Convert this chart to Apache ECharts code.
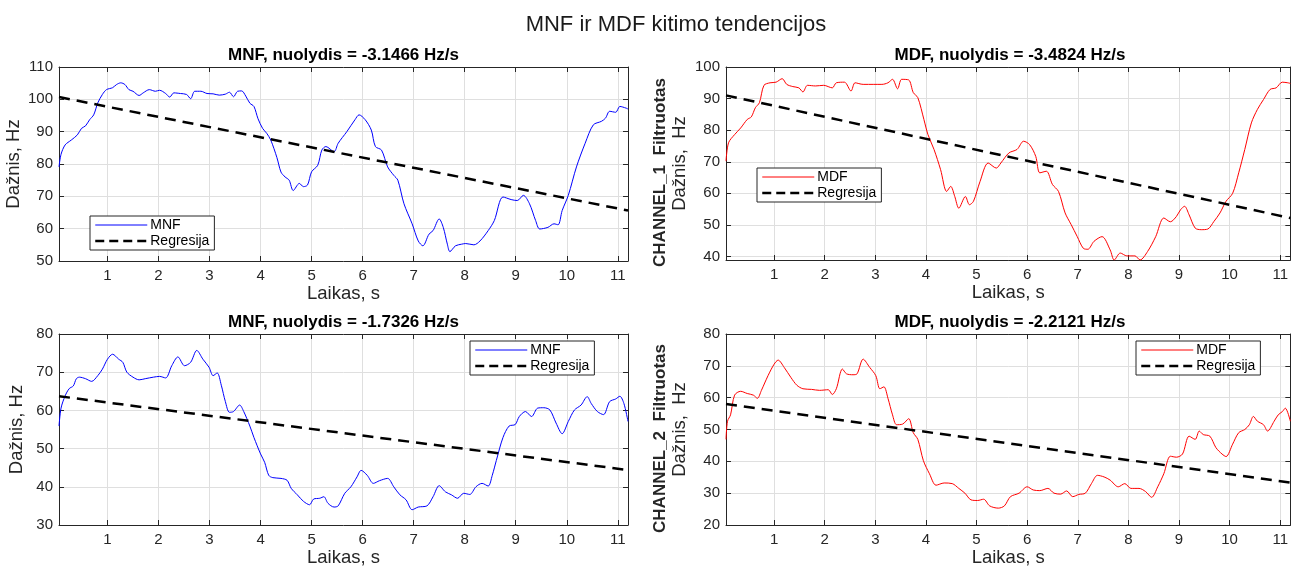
<!DOCTYPE html>
<html>
<head>
<meta charset="utf-8">
<script src="https://cdn.jsdelivr.net/npm/echarts@6/dist/echarts.min.js"></script>
<style>
  html, body { margin: 0; padding: 0; background: #ffffff; }
  #chart { width: 1291px; height: 568px; }
</style>
</head>
<body>
<div id="chart"></div>
<script>
// ---- data: time (s) / frequency (Hz) ----
const timeRange = [0.05, 11.2];
const timeTicks = [1, 2, 3, 4, 5, 6, 7, 8, 9, 10, 11];

const ch1Mnf = [
  [0.05,79.1],[0.09,83],[0.17,85.9],[0.29,87.4],[0.41,89],[0.49,91],[0.57,91.8],[0.65,93.7],[0.73,95.2],
  [0.81,98.9],[0.9,101.5],[0.98,103],[1.1,103.6],[1.18,104.6],[1.26,105.1],[1.34,104.6],[1.42,103],
  [1.5,102.5],[1.62,101.2],[1.7,102],[1.82,103],[1.94,102.5],[2.02,102.8],[2.14,101.8],[2.22,100.7],
  [2.3,102],[2.43,101.8],[2.55,101.5],[2.63,100.2],[2.71,102.5],[2.83,102.5],[2.95,101.8],[3.07,101.7],
  [3.19,101.3],[3.31,101.6],[3.39,102.2],[3.47,100.8],[3.55,102.5],[3.63,102.6],[3.71,101],[3.79,98.8],
  [3.87,97.8],[3.95,94],[4.04,91],[4.12,89.5],[4.2,87.4],[4.32,82],[4.4,77.5],[4.48,76],[4.56,75],
  [4.64,71.8],[4.76,74],[4.84,73],[4.92,73.5],[5.0,77.6],[5.12,79.6],[5.2,84.3],[5.28,85.4],[5.44,83.8],
  [5.52,86.4],[5.69,90],[5.85,93.7],[5.93,95.2],[6.05,93.7],[6.17,90.5],[6.25,85.4],[6.37,84.3],
  [6.49,79.1],[6.61,76.5],[6.69,75],[6.81,67.7],[6.97,61.5],[7.09,56.2],[7.18,54.7],[7.3,58.3],
  [7.38,59.4],[7.5,63],[7.58,60.4],[7.66,55.2],[7.71,52.9],[7.82,54.7],[7.94,55.2],[8.02,55.4],
  [8.18,55],[8.3,56.2],[8.46,59.4],[8.58,62.5],[8.75,69.8],[8.91,69],[9.03,68.7],[9.15,70.3],
  [9.27,67.7],[9.39,62.5],[9.47,59.9],[9.63,60.4],[9.75,61.5],[9.83,61.2],[9.91,65.6],[10.03,70.3],
  [10.19,79.1],[10.36,86.4],[10.52,92.1],[10.68,93.2],[10.76,94.2],[10.84,96.3],[10.96,96],
  [11.04,97.8],[11.16,97.3],[11.2,97]
];

const ch1Mdf = [
  [0.05,70.2],[0.1,76],[0.22,78.6],[0.34,80.7],[0.47,83.4],[0.55,84.2],[0.63,87.1],[0.71,88.7],
  [0.8,94.2],[0.92,95],[1.04,95.2],[1.16,96.3],[1.25,94.5],[1.37,93.8],[1.49,93.4],[1.57,92.1],
  [1.66,94.2],[1.82,94],[1.98,94.2],[2.15,93.4],[2.23,95],[2.39,95.2],[2.52,92.4],[2.6,95],
  [2.76,94.5],[2.97,94.5],[3.13,94.5],[3.25,95],[3.34,96.1],[3.44,93.1],[3.52,96.1],[3.66,95.9],
  [3.75,91.9],[3.84,90.3],[3.96,83.4],[4.04,78.6],[4.16,73.9],[4.29,67.5],[4.41,60.6],[4.49,62.2],
  [4.57,59],[4.65,55.3],[4.78,59],[4.86,56.4],[4.94,57.5],[5.07,63.8],[5.23,69.6],[5.39,68],
  [5.48,69.6],[5.64,72.8],[5.8,73.9],[5.93,76.5],[6.05,75.4],[6.17,71.7],[6.25,66.5],[6.38,67],
  [6.5,62.8],[6.62,60.6],[6.75,53.8],[6.87,50.1],[6.99,46.3],[7.11,42.6],[7.2,42.3],[7.32,44.8],
  [7.48,46.3],[7.64,42.1],[7.72,38.9],[7.84,41.1],[7.97,40.2],[8.13,40.2],[8.23,38.9],[8.38,41.6],
  [8.54,46.3],[8.7,52.2],[8.83,51],[8.95,52.7],[9.03,54.8],[9.11,55.9],[9.2,53.2],[9.32,49],
  [9.44,48.5],[9.57,48.7],[9.69,51.1],[9.81,53.8],[9.93,57.5],[10.06,60],[10.18,66.5],[10.3,73.9],
  [10.43,82.3],[10.55,86.6],[10.67,89.7],[10.8,92.9],[10.92,93.4],[11.04,95.2],[11.15,95],[11.2,94.8]
];

const ch2Mnf = [
  [0.05,55.9],[0.09,60.6],[0.17,63.8],[0.25,65.7],[0.33,66.4],[0.39,68.3],[0.45,68.7],[0.57,68.3],
  [0.69,67.6],[0.81,69.1],[0.9,70.8],[1.0,73.4],[1.1,74.7],[1.22,73.4],[1.3,72.6],[1.38,70],
  [1.5,68.7],[1.62,68],[1.74,68.3],[1.9,68.7],[2.02,68.9],[2.14,68.5],[2.26,71.7],[2.38,74],
  [2.51,71.7],[2.63,72.6],[2.75,75.7],[2.87,73.4],[2.99,71.3],[3.07,69.1],[3.15,69.8],[3.23,66.6],
  [3.31,62.3],[3.39,59.5],[3.47,59.7],[3.59,61.4],[3.67,59.7],[3.79,55.9],[3.87,52.9],[4.0,48.6],
  [4.08,46.4],[4.16,43],[4.24,42.4],[4.4,42.2],[4.52,41.7],[4.6,39.6],[4.72,37.9],[4.84,36.2],
  [4.96,35.3],[5.04,36.8],[5.16,37],[5.24,37.4],[5.32,35.7],[5.44,34.7],[5.52,35],[5.65,38.3],
  [5.77,40],[5.89,42.6],[5.97,44.3],[6.09,43],[6.21,40.9],[6.33,41.6],[6.49,42.2],[6.61,40],
  [6.73,37.9],[6.85,36.6],[6.97,34],[7.09,34.7],[7.26,35],[7.38,37.4],[7.5,40.3],[7.62,38.7],
  [7.74,37.9],[7.86,37],[7.98,38.3],[8.1,38],[8.22,40],[8.34,40.9],[8.46,40.2],[8.54,43],
  [8.62,46.9],[8.75,52.9],[8.87,55.9],[8.99,56.3],[9.07,58.4],[9.19,59.7],[9.31,58.4],[9.43,60.6],
  [9.55,60.7],[9.67,60.1],[9.79,56.7],[9.91,53.9],[10.03,57.1],[10.15,60.1],[10.28,61.4],
  [10.4,63.6],[10.48,61.8],[10.6,59.7],[10.72,58.9],[10.84,62.3],[10.96,63],[11.04,63.7],
  [11.12,61.8],[11.2,57.1]
];

const ch2Mdf = [
  [0.05,46.9],[0.08,52.6],[0.14,54.6],[0.22,60.8],[0.34,62],[0.47,61.3],[0.59,60.8],[0.67,59.8],
  [0.75,62.3],[0.88,66.9],[1.0,70.5],[1.08,71.8],[1.2,69.5],[1.33,66.4],[1.45,63.9],[1.57,62.8],
  [1.74,62.6],[1.9,62.3],[2.07,62.5],[2.15,61],[2.23,62.8],[2.35,69],[2.43,67.5],[2.56,67.2],
  [2.64,67.5],[2.76,72.1],[2.89,69.5],[3.01,66.9],[3.09,62.8],[3.17,63.4],[3.25,59.8],[3.34,54.6],
  [3.42,51.5],[3.54,51.7],[3.66,53.4],[3.75,49],[3.84,46.9],[3.95,40.2],[4.07,36.1],[4.2,32.5],
  [4.36,33.2],[4.52,33],[4.65,31.5],[4.77,30],[4.89,27.9],[5.02,27.7],[5.14,28.1],[5.26,26],
  [5.43,25.3],[5.55,26],[5.67,28.9],[5.84,30],[6.0,32],[6.12,31],[6.25,30.8],[6.41,31.5],
  [6.53,30],[6.66,29.7],[6.78,30.7],[6.9,28.9],[7.02,29.6],[7.15,30],[7.27,33],[7.39,35.6],
  [7.52,35.1],[7.64,34.1],[7.8,32],[7.93,33],[8.05,31.5],[8.21,31.5],[8.34,30.5],[8.46,28.7],
  [8.58,32],[8.7,36.1],[8.83,41.6],[8.95,41.3],[9.07,42.3],[9.2,47.9],[9.32,46.9],[9.4,49.5],
  [9.48,48.4],[9.61,47.9],[9.73,44.3],[9.85,42.3],[9.93,41.5],[10.06,45.4],[10.18,49],[10.3,50],
  [10.39,51.5],[10.47,54.1],[10.55,52.6],[10.67,51.5],[10.75,49.5],[10.88,52.6],[10.96,54.6],
  [11.04,55.6],[11.1,56.7],[11.2,52.6]
];

// linear regression of each curve: intercept (Hz) and slope (Hz/s)
const regIntercept = [100.86, 91.2, 63.8, 58.1];
const regSlope = [-3.1466, -3.4824, -1.7326, -2.2121];

// y axis extents and tick labels
const yExtent = [[50, 110], [38.9, 100], [30, 80], [20, 80]];
const yTicks = [
  [50, 60, 70, 80, 90, 100, 110],
  [40, 50, 60, 70, 80, 90, 100],
  [30, 40, 50, 60, 70, 80],
  [20, 30, 40, 50, 60, 70, 80]
];

const curveNames = ['MNF', 'MDF', 'MNF', 'MDF'];
const curves = [ch1Mnf, ch1Mdf, ch2Mnf, ch2Mdf];
const channelNames = ['', 'CHANNEL_1  Filtruotas', '', 'CHANNEL_2  Filtruotas'];

// ---- layout & styling ----
const FONT = "'Liberation Sans', Arial, Helvetica, sans-serif";
const AX = '#262626';
const GRIDC = '#dfdfdf';
const curveColors = { MNF: '#0000ff', MDF: '#ff0000' };

const panels = [
  { grid: { left: 59, top: 67, width: 569, height: 194 }, legend: { left: 90, top: 216 }, titleX: 343.5, titleY: 55 },
  { grid: { left: 726, top: 67, right: -3, height: 193 }, legend: { left: 757, top: 168 }, titleX: 1010, titleY: 55 },
  { grid: { left: 59, top: 334, width: 569, height: 197 }, legend: { left: 470, top: 341 }, titleX: 343.5, titleY: 322 },
  { grid: { left: 726, top: 334, right: -3, height: 197 }, legend: { left: 1136, top: 341 }, titleX: 1010, titleY: 322 }
];

const grids = [], xAxes = [], yAxes = [], series = [], legends = [];
const graphics = [{
  type: 'text', x: 676, y: 25,
  style: { text: 'MNF ir MDF kitimo tendencijos', font: `22px ${FONT}`, fill: '#1a1a1a', align: 'center', verticalAlign: 'middle' }
}];

const lineAxis = { show: true, lineStyle: { color: AX, width: 1 } };
const tickIn = { show: true, inside: true, length: 5, lineStyle: { color: AX, width: 1 } };
const noSymbol = { opacity: 0, borderWidth: 0 };

panels.forEach((p, i) => {
  grids.push(Object.assign({ containLabel: false }, p.grid));

  // bottom x axis (labelled) and top x axis (box with inward ticks)
  xAxes.push({
    type: 'value', gridIndex: i, position: 'bottom', min: timeRange[0], max: timeRange[1],
    axisLine: lineAxis, axisTick: Object.assign({ customValues: timeTicks }, tickIn),
    axisLabel: { customValues: timeTicks, color: AX, fontSize: 15, fontFamily: FONT, margin: 7 },
    splitLine: { show: true, lineStyle: { color: GRIDC, width: 1 } },
    name: 'Laikas, s', nameLocation: 'middle', nameGap: 23,
    nameTextStyle: { color: AX, fontSize: 18.5, fontFamily: FONT }
  });
  xAxes.push({
    type: 'value', gridIndex: i, position: 'top', min: timeRange[0], max: timeRange[1],
    axisLine: lineAxis, axisTick: Object.assign({ customValues: timeTicks }, tickIn),
    axisLabel: { show: false }, splitLine: { show: false }
  });

  const yName = channelNames[i]
    ? `{b|${channelNames[i]}}\n{n|Dažnis,  Hz}`
    : 'Dažnis, Hz';
  yAxes.push({
    type: 'value', gridIndex: i, position: 'left', min: yExtent[i][0], max: yExtent[i][1],
    axisLine: lineAxis, axisTick: Object.assign({ customValues: yTicks[i] }, tickIn),
    axisLabel: { customValues: yTicks[i], color: AX, fontSize: 15, fontFamily: FONT, margin: 6 },
    splitLine: { show: true, lineStyle: { color: GRIDC, width: 1 } },
    name: yName, nameLocation: 'middle', nameGap: channelNames[i] ? 36 : 32,
    nameTextStyle: {
      color: AX, fontSize: 18.5, fontFamily: FONT, lineHeight: 20,
      rich: {
        b: { fontSize: 17, fontWeight: 'bold', fontFamily: FONT, color: AX, lineHeight: 20, padding: [0, 18, 0, 0] },
        n: { fontSize: 18.5, fontFamily: FONT, color: AX, lineHeight: 20 }
      }
    }
  });
  yAxes.push({
    type: 'value', gridIndex: i, position: 'right', min: yExtent[i][0], max: yExtent[i][1],
    axisLine: lineAxis, axisTick: Object.assign({ customValues: yTicks[i] }, tickIn),
    axisLabel: { show: false }, splitLine: { show: false }
  });

  const name = curveNames[i];
  series.push({
    type: 'line', name: name, xAxisIndex: 2 * i, yAxisIndex: 2 * i,
    data: curves[i], showSymbol: false, symbol: 'none', smooth: 0.3,
    lineStyle: { color: curveColors[name], width: 1 }, itemStyle: { color: curveColors[name] },
    z: 3, animation: false
  });

  // regression line drawn through the first and last sample times
  const t0 = curves[i][0][0], t1 = curves[i][curves[i].length - 1][0];
  series.push({
    type: 'line', name: 'Regresija', xAxisIndex: 2 * i, yAxisIndex: 2 * i,
    data: [[t0, regIntercept[i] + regSlope[i] * t0], [t1, regIntercept[i] + regSlope[i] * t1]],
    showSymbol: false, symbol: 'none',
    lineStyle: { color: '#000000', width: 2.5, type: [11, 7] }, itemStyle: { color: '#000000' },
    z: 4, animation: false
  });

  legends.push({
    orient: 'vertical', left: p.legend.left, top: p.legend.top,
    padding: [2, 5, 2, 4], itemGap: 2, itemWidth: 52, itemHeight: 14,
    backgroundColor: '#ffffff', borderColor: '#262626', borderWidth: 1,
    textStyle: { color: '#000000', fontSize: 14, fontFamily: FONT, padding: [0, 0, 0, -2] },
    selectedMode: false,
    data: [
      { name: name, itemStyle: noSymbol, lineStyle: { width: 1, color: curveColors[name] } },
      { name: 'Regresija', itemStyle: noSymbol, lineStyle: { width: 2.5, color: '#000000', type: [9, 5] } }
    ]
  });

  graphics.push({
    type: 'text', x: p.titleX, y: p.titleY,
    style: {
      text: `${name}, nuolydis = ${regSlope[i].toFixed(4)} Hz/s`,
      font: `bold 17px ${FONT}`, fill: '#000000', align: 'center', verticalAlign: 'middle'
    }
  });
});

const chart = echarts.init(document.getElementById('chart'), null, { renderer: 'canvas' });
chart.setOption({
  backgroundColor: '#ffffff',
  animation: false,
  grid: grids,
  xAxis: xAxes,
  yAxis: yAxes,
  series: series,
  legend: legends,
  graphic: graphics
});
</script>
</body>
</html>
